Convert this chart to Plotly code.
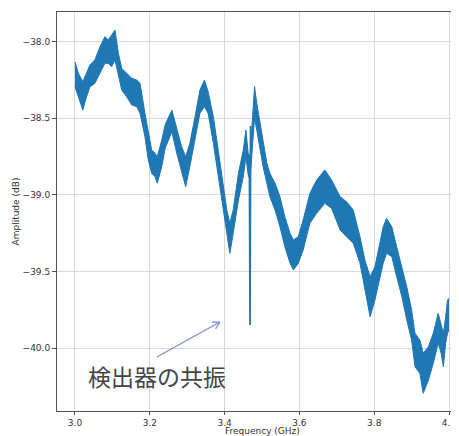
import math
import plotly.graph_objects as go

# ---- data ----
freq_ghz = [3.000, 3.009, 3.021, 3.031, 3.040, 3.053, 3.067, 3.080, 3.089, 3.098,
            3.107, 3.116, 3.125, 3.138, 3.152, 3.165, 3.174, 3.187, 3.196, 3.205,
            3.214, 3.220, 3.232, 3.241, 3.259, 3.272, 3.285, 3.296, 3.307, 3.321,
            3.334, 3.346, 3.356, 3.370, 3.383, 3.397, 3.406, 3.414, 3.423, 3.437,
            3.450, 3.457, 3.463, 3.468, 3.474, 3.480, 3.486, 3.495, 3.503, 3.513,
            3.521, 3.535, 3.548, 3.561, 3.575, 3.584, 3.597, 3.610, 3.628, 3.646,
            3.668, 3.686, 3.709, 3.726, 3.744, 3.762, 3.775, 3.789, 3.802, 3.816,
            3.824, 3.833, 3.847, 3.860, 3.874, 3.887, 3.900, 3.909, 3.922, 3.931,
            3.945, 3.958, 3.971, 3.979, 3.985, 3.991, 3.996, 4.000]
amp_upper_db = [-38.131, -38.206, -38.261, -38.206, -38.152, -38.119, -38.033, -37.967, -37.989, -37.956,
                -37.924, -38.076, -38.174, -38.206, -38.239, -38.250, -38.272, -38.467, -38.598, -38.707,
                -38.728, -38.751, -38.642, -38.544, -38.446, -38.565, -38.685, -38.751, -38.663, -38.490,
                -38.315, -38.250, -38.326, -38.490, -38.707, -38.924, -39.099, -39.185, -39.099, -38.859,
                -38.707, -38.576, -38.728, -38.750, -38.500, -38.293, -38.402, -38.533, -38.663, -38.794,
                -38.859, -38.924, -39.012, -39.142, -39.251, -39.294, -39.273, -39.164, -38.990, -38.903,
                -38.837, -38.903, -39.012, -39.044, -39.099, -39.273, -39.425, -39.534, -39.469, -39.316,
                -39.208, -39.153, -39.208, -39.338, -39.469, -39.599, -39.751, -39.903, -39.947, -40.034,
                -39.991, -39.903, -39.773, -39.838, -39.903, -39.795, -39.686, -39.675]
amp_lower_db = [-38.294, -38.359, -38.446, -38.359, -38.294, -38.272, -38.206, -38.141, -38.141, -38.163,
                -38.119, -38.228, -38.315, -38.359, -38.413, -38.424, -38.467, -38.620, -38.772, -38.859,
                -38.881, -38.924, -38.816, -38.696, -38.587, -38.728, -38.837, -38.946, -38.816, -38.642,
                -38.467, -38.424, -38.467, -38.663, -38.881, -39.099, -39.273, -39.381, -39.251, -39.033,
                -38.881, -38.751, -38.870, -38.900, -38.700, -38.498, -38.576, -38.707, -38.816, -38.924,
                -39.012, -39.099, -39.208, -39.338, -39.446, -39.490, -39.446, -39.360, -39.185, -39.120,
                -39.055, -39.087, -39.229, -39.273, -39.316, -39.446, -39.621, -39.795, -39.686, -39.534,
                -39.446, -39.381, -39.403, -39.534, -39.664, -39.817, -39.947, -40.121, -40.165, -40.295,
                -40.208, -40.099, -39.968, -40.034, -40.121, -39.968, -39.903, -39.882]

# narrow resonance dip of the detector
dip_freq_ghz = [3.4665, 3.4680, 3.4695]
dip_amp_db = [-38.85, -39.85, -38.55]

x_tick_vals = [3.0, 3.2, 3.4, 3.6, 3.8, 4.0]
x_tick_text = ["3.0", "3.2", "3.4", "3.6", "3.8", "4.0"]
y_tick_vals = [-40.0, -39.5, -39.0, -38.5, -38.0]
y_tick_text = ["\u221240.0", "\u221239.5", "\u221239.0", "\u221238.5", "\u221238.0"]

x_label = "Frequency (GHz)"
y_label = "Amplitude (dB)"
note_text = "検出器の共振"
note_pos = (3.219, -40.182)
arrow_tail = (3.219, -40.058)
arrow_head = (3.3877, -39.830)

# ---- layout geometry (page body adds an 8px offset) ----
OFF = 8
W, H = 459 - OFF, 436 - OFF
ML, MR, MT, MB = 57 - OFF, 0, 12 - OFF, 25
x_range = [2.9519, 4.0267]
y_range = [-40.4106, -37.806]

BLUE = "#1f77b4"
GRID = "#d9d9d9"
AXC = "#555555"
TXT = "#333333"

fig = go.Figure()
fig.add_trace(go.Scatter(x=freq_ghz, y=amp_lower_db, mode="lines",
                         line=dict(color=BLUE, width=1), showlegend=False, hoverinfo="skip"))
fig.add_trace(go.Scatter(x=freq_ghz, y=amp_upper_db, mode="lines", fill="tonexty",
                         fillcolor=BLUE, line=dict(color=BLUE, width=1), showlegend=False))
fig.add_trace(go.Scatter(x=dip_freq_ghz, y=dip_amp_db, mode="lines",
                         line=dict(color=BLUE, width=1.8), showlegend=False))

# arrow (line + open head)
pw = W - ML - MR
ph = H - MT - MB
sx = pw / (x_range[1] - x_range[0])
sy = ph / (y_range[1] - y_range[0])
dxp = (arrow_head[0] - arrow_tail[0]) * sx
dyp = (arrow_head[1] - arrow_tail[1]) * sy
ang = math.atan2(dyp, dxp)
ARC = "#7f90c4"
shapes = [dict(type="line", xref="x", yref="y", x0=arrow_tail[0], y0=arrow_tail[1],
               x1=arrow_head[0], y1=arrow_head[1], line=dict(color=ARC, width=1.2))]
for s in (1, -1):
    a = ang + math.pi - s * math.radians(28)
    wx = arrow_head[0] + 8 * math.cos(a) / sx
    wy = arrow_head[1] + 8 * math.sin(a) / sy
    shapes.append(dict(type="line", xref="x", yref="y", x0=arrow_head[0], y0=arrow_head[1],
                       x1=wx, y1=wy, line=dict(color=ARC, width=1.2)))

annotations = [
    dict(x=note_pos[0], y=note_pos[1], xref="x", yref="y", text=note_text, showarrow=False,
         font=dict(family="Noto Sans CJK JP", size=23, color="#444444")),
    dict(x=(2.95 + 4.05) / 2, y=1 - (424.5 - OFF - MT) / ph, xref="x", yref="paper", text=x_label,
         showarrow=False, yanchor="top", font=dict(family="DejaVu Sans", size=9, color=TXT)),
    dict(x=-(ML - (15 - OFF)) / pw, y=0.5, xref="paper", yref="paper", text=y_label,
         showarrow=False, textangle=-90, xanchor="center", yanchor="middle",
         font=dict(family="DejaVu Sans", size=9, color=TXT)),
]

fig.update_layout(
    width=W, height=H, margin=dict(l=ML, r=MR, t=MT, b=MB, pad=0, autoexpand=False),
    paper_bgcolor="white", plot_bgcolor="white",
    shapes=shapes, annotations=annotations,
    font=dict(family="DejaVu Sans", size=9, color=TXT),
)
fig.update_xaxes(range=x_range, tickvals=x_tick_vals, ticktext=x_tick_text, automargin=False,
                 showgrid=True, gridcolor=GRID, gridwidth=1, zeroline=False,
                 showline=True, linecolor=AXC, linewidth=1, mirror=True,
                 ticks="outside", ticklen=3, tickcolor=AXC, ticklabeloverflow="allow",
                 tickfont=dict(family="DejaVu Sans", size=9, color=TXT))
fig.update_yaxes(range=y_range, tickvals=y_tick_vals, ticktext=y_tick_text, automargin=False,
                 showgrid=True, gridcolor=GRID, gridwidth=1, zeroline=False,
                 showline=True, linecolor=AXC, linewidth=1,
                 ticks="outside", ticklen=4, tickcolor=AXC, ticklabeloverflow="allow",
                 tickfont=dict(family="DejaVu Sans", size=9, color=TXT))

fig.write_html("out.html", config={"displayModeBar": False},
               post_script="document.documentElement.style.overflow='hidden';")
